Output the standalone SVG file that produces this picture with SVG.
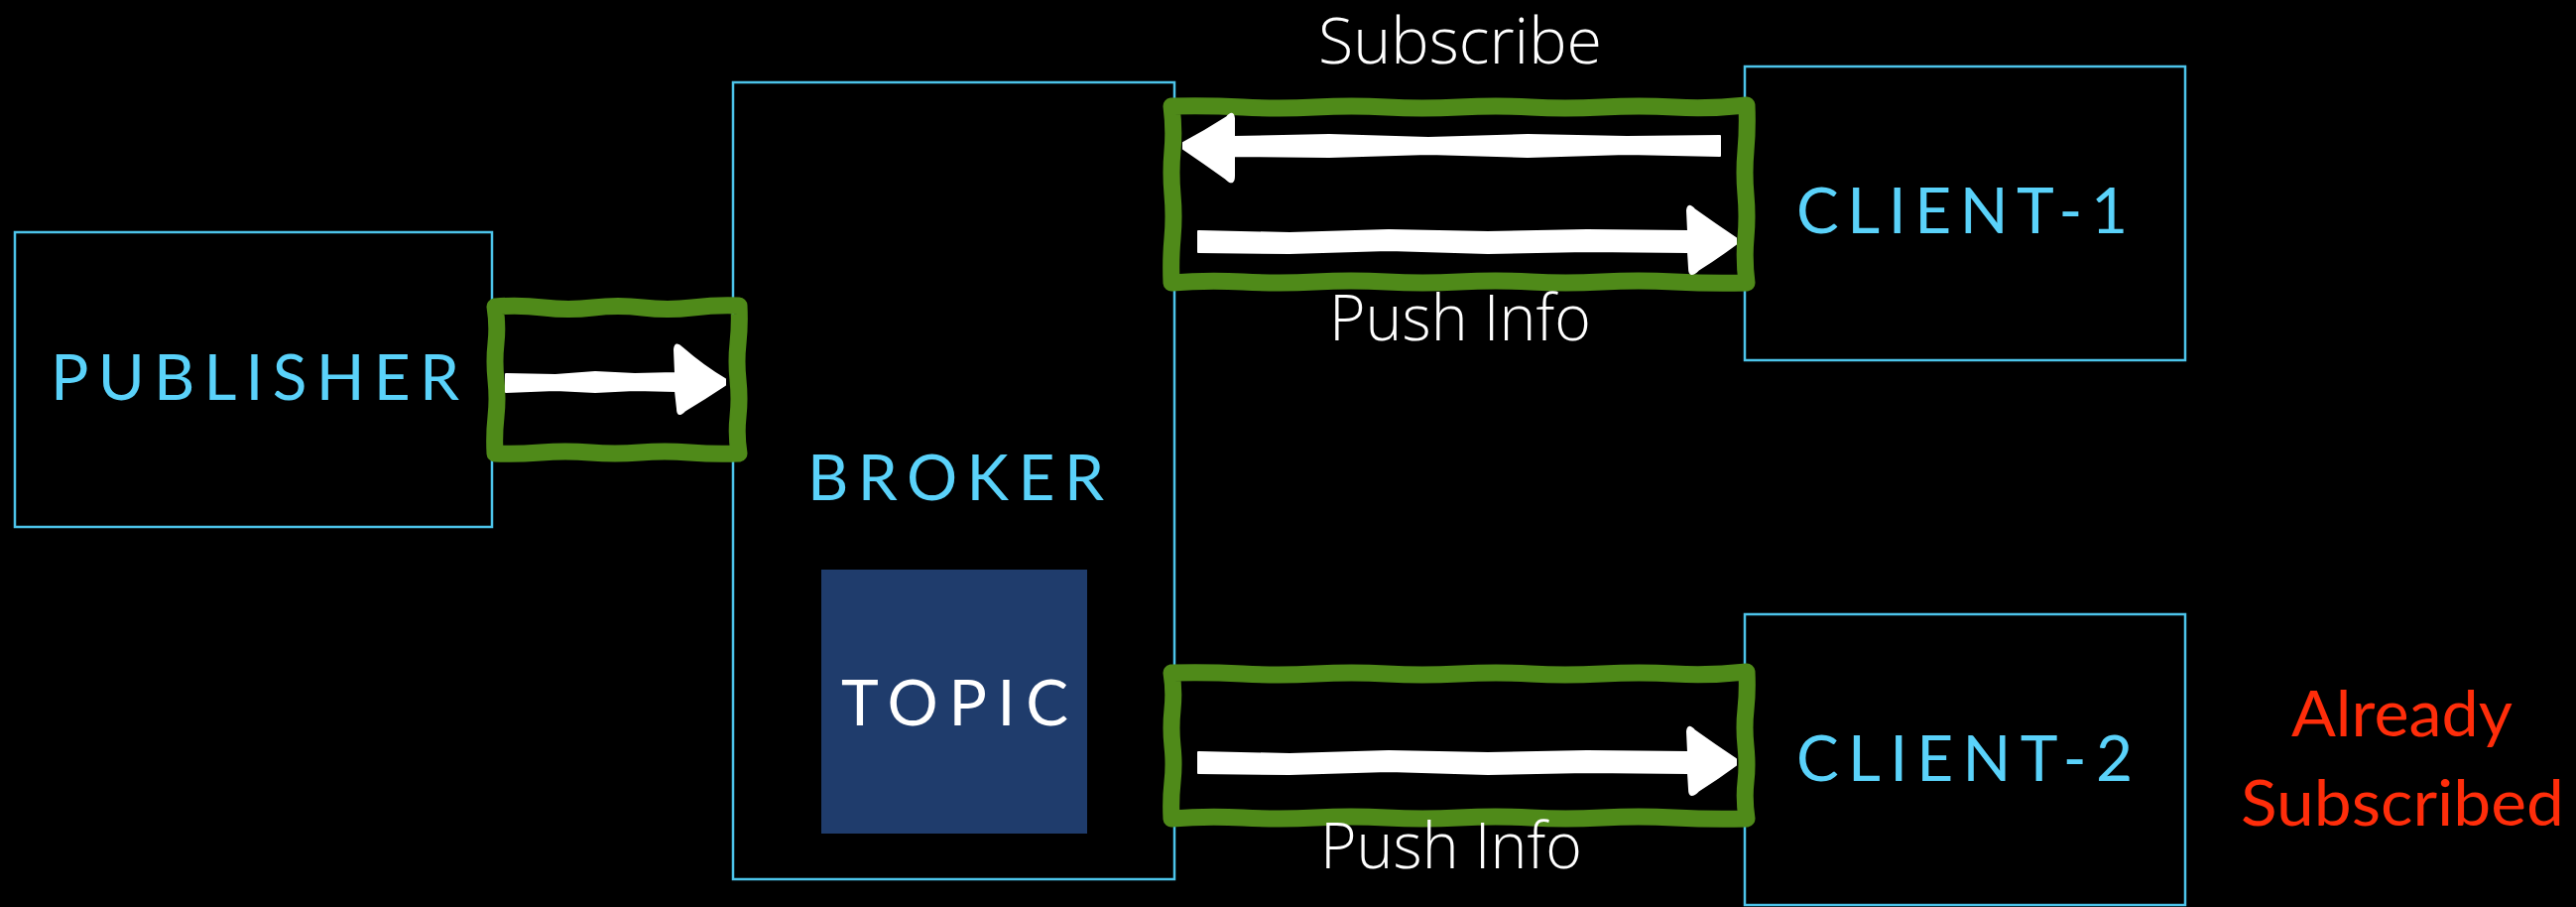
<svg xmlns="http://www.w3.org/2000/svg" width="2597" height="914" viewBox="0 0 2597 914">
<style>
.box{fill:#000;stroke:#4cc4ea;stroke-width:2.5}
.lbl{font-family:"Lato","Open Sans","Liberation Sans",sans-serif;font-size:64px;fill:#5ad2fa}
.wl{font-family:"Open Sans","Liberation Sans",sans-serif;font-weight:300;font-size:64px;fill:#fff}
.note{font-family:"Lato","Open Sans","Liberation Sans",sans-serif;font-size:64px;fill:#ff2d0a}
.frame{fill:none;stroke:#4f8a19;stroke-width:17;stroke-linejoin:round;stroke-linecap:round}
.arr{fill:#fff;stroke:#fff;stroke-width:2;stroke-linejoin:round}
</style>
<rect width="2597" height="914" fill="#000"/>
<g id="publisher">
<rect class="box" x="15" y="234" width="481" height="297"/>
<text class="lbl" x="51" y="403" textLength="412" lengthAdjust="spacing">PUBLISHER</text>
</g>
<g id="broker">
<rect class="box" x="739" y="83" width="445" height="803"/>
<text class="lbl" x="814" y="504" textLength="299" lengthAdjust="spacing">BROKER</text>
</g>
<g id="topic">
<rect x="828" y="574" width="268" height="266" fill="#1f3c6c"/>
<text class="lbl" x="848" y="731" textLength="229" lengthAdjust="spacing" style="fill:#fff">TOPIC</text>
</g>
<g id="client1">
<rect class="box" x="1759" y="67" width="444" height="296"/>
<text class="lbl" x="1811" y="235" textLength="334" lengthAdjust="spacing">CLIENT-1</text>
</g>
<g id="client2">
<rect class="box" x="1759" y="619" width="444" height="293"/>
<text class="lbl" x="1811" y="787" textLength="339" lengthAdjust="spacing">CLIENT-2</text>
</g>
<g id="note">
<text class="note" x="2310" y="742" textLength="223" lengthAdjust="spacingAndGlyphs">Already</text>
<text class="note" x="2259" y="832" textLength="326" lengthAdjust="spacingAndGlyphs">Subscribed</text>
</g>
<g id="connectors">
<path class="frame" d="M499,309 Q523,307 548,310 T598,310 T648,310 T698,310 T745,308 Q746,328 744,346 T744,383 T744,420 T745,457 Q720,458 695,456 T645,456 T595,456 T545,456 T499,457 Q498,438 500,420 T500,383 T500,346 T499,309 Z"/>
<path class="arr" d="M510,377 L560,378 L600,375 L640,377 L681,376 L680,352 Q681,344 687,350 Q710,370 731,382 L731,388 Q710,402 690,414 Q683,421 683,412 L681,394 L640,393 L600,395 L560,393 L510,395 Z"/>
<path class="frame" d="M1181,107 Q1217,106 1253,108 T1326,108 T1398,108 T1471,108 T1543,108 T1615,108 T1688,108 T1761,106 Q1762,130 1760,152 T1760,196 T1760,240 T1761,285 Q1724,286 1688,284 T1615,284 T1543,284 T1471,284 T1398,284 T1326,284 T1253,284 T1181,285 Q1180,262 1182,240 T1182,196 T1182,152 T1181,107 Z"/>
<path class="arr" d="M1734,137 L1640,138 L1540,136 L1440,139 L1340,136 L1244,138 L1244,119 Q1243,111 1237,118 Q1215,132 1193,144 L1193,150 Q1215,165 1236,180 Q1244,188 1244,177 L1244,157 L1340,158 L1440,155 L1540,158 L1640,155 L1734,157 Z"/>
<path class="arr" d="M1208,233 L1300,235 L1400,232 L1500,234 L1600,232 L1702,233 L1701,212 Q1702,204 1708,211 Q1729,226 1750,240 L1750,246 Q1731,260 1712,272 Q1703,281 1703,270 L1702,254 L1600,253 L1500,255 L1400,252 L1300,255 L1208,254 Z"/>
<path class="frame" d="M1181,678 Q1217,677 1253,679 T1326,679 T1398,679 T1471,679 T1543,679 T1615,679 T1688,679 T1761,677 Q1762,697 1760,715 T1760,752 T1760,788 T1761,825 Q1724,826 1688,824 T1615,824 T1543,824 T1471,824 T1398,824 T1326,824 T1253,824 T1181,825 Q1180,806 1182,788 T1182,752 T1182,715 T1181,678 Z"/>
<path class="arr" d="M1208,758 L1300,760 L1400,757 L1500,759 L1600,757 L1702,758 L1701,737 Q1702,729 1708,736 Q1729,751 1750,765 L1750,771 Q1731,785 1712,797 Q1703,806 1703,795 L1702,779 L1600,778 L1500,780 L1400,777 L1300,780 L1208,779 Z"/>
<text class="wl" x="1329" y="64" textLength="286" lengthAdjust="spacingAndGlyphs">Subscribe</text>
<text class="wl" x="1340" y="343" textLength="264" lengthAdjust="spacingAndGlyphs">Push Info</text>
<text class="wl" x="1331" y="875" textLength="264" lengthAdjust="spacingAndGlyphs">Push Info</text>
</g>
</svg>
